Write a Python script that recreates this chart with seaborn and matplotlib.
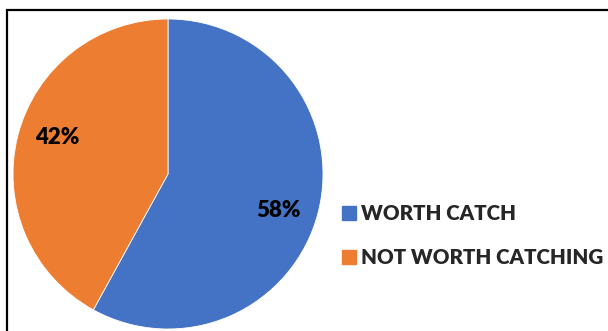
import matplotlib
matplotlib.use("Agg")
import numpy as np
import matplotlib.pyplot as plt
import seaborn as sns
from matplotlib.patches import Rectangle
from matplotlib.lines import Line2D

categories = ["WORTH CATCH", "NOT WORTH CATCHING"]
values = [58, 42]
colors = ["#4472C4", "#ED7D31"]

sns.set_theme(style="white")
plt.rcParams['font.family'] = ['Lato', 'DejaVu Sans']

fig = plt.figure(figsize=(6.08, 3.31), dpi=100)
W, H = 608, 331

# border
fig.patches.append(Rectangle((7 / W, -0.05), 1.1, (331 - 10) / H + 0.05,
                             transform=fig.transFigure, fill=False,
                             edgecolor="black", linewidth=1.6, zorder=0))

cx, cy, r = 168, 174, 155
ax = fig.add_axes([(cx - r) / W, (H - cy - r) / H, 2 * r / W, 2 * r / H])
wedges, texts, autotexts = ax.pie(
    values, colors=colors, startangle=90, counterclock=False,
    autopct=lambda p: f"{p:.0f}%", pctdistance=0.75,
    wedgeprops=dict(edgecolor="white", linewidth=0.6),
    textprops=dict(fontsize=16, fontweight="heavy", color="black"))
# nudge labels slightly clockwise, as in the reference layout
for w, t in zip(wedges, autotexts):
    ang = np.deg2rad((w.theta1 + w.theta2) / 2 - 4.0)
    t.set_position((0.75 * np.cos(ang), 0.75 * np.sin(ang)))
ax.set_xlim(-1, 1)
ax.set_ylim(-1, 1)
ax.set_aspect("equal")
ax.axis("off")

handles = [Line2D([0], [0], marker="s", linestyle="none", markersize=9.5,
                  markerfacecolor=c, markeredgecolor=c) for c in colors]
leg = fig.legend(handles, categories, loc="upper left",
                 bbox_to_anchor=(320 / W, (H - 186) / H),
                 frameon=False, handletextpad=0.1, labelspacing=1.2,
                 handlelength=1.0, prop=dict(size=14.8, weight="heavy"))

fig.savefig("out.png", dpi=100)
